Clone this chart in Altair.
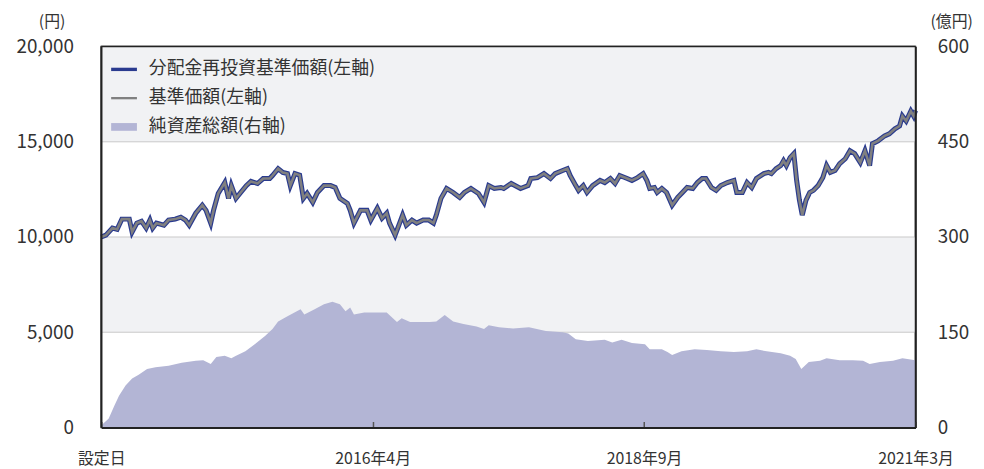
import json
import altair as alt
import pandas as pd

FONT = "Noto Sans CJK JP"
TEXT = "#333333"
BORDER = "#222222"

# ---- legend / series ----
series_names = ["分配金再投資基準価額(左軸)", "基準価額(左軸)", "純資産総額(右軸)"]
series_colors = ["#2a3b8f", "#808080", "#b3b5d5"]
series_shapes = ["M-1,-0.13H1V0.13H-1Z", "M-1,-0.09H1V0.09H-1Z", "M-1,-0.3H1V0.3H-1Z"]

# ---- axes ----
tick_months = [0, 29, 58, 87]
tick_labels = ["設定日", "2016年4月", "2018年9月", "2021年3月"]
left_ticks = [0, 5000, 10000, 15000, 20000]
right_ticks = [0, 150, 300, 450, 600]
band_lo = [5000, 15000]
band_hi = [10000, 20000]
grid_vals = [5000, 10000, 15000]
top_border = [20000]
side_borders = [0, 87]

# ---- 基準価額 (円), x = months since 設定日 ----
line_months = [
    0.0, 0.5, 1.2, 1.7, 2.2, 3.0, 3.3, 3.8, 4.3, 4.8, 5.2, 5.5, 5.9, 6.7, 7.2, 7.9,
    8.5, 9.0, 9.4, 10.1, 10.8, 11.2, 11.7, 12.0, 12.5, 13.2, 13.6, 13.9, 14.4, 14.9,
    15.5, 16.0, 16.7, 17.3, 18.0, 18.3, 18.9, 19.4, 19.9, 20.2, 20.7, 21.2, 21.6,
    22.0, 22.6, 23.1, 23.8, 24.5, 25.0, 25.5, 26.3, 26.6, 27.0, 27.7, 28.4, 28.8,
    29.5, 30.0, 30.5, 30.8, 31.4, 31.8, 32.2, 32.6, 33.2, 33.7, 34.4, 35.0, 35.5,
    35.8, 36.3, 36.9, 37.6, 38.3, 38.8, 39.5, 40.3, 40.9, 41.4, 42.0, 42.7, 43.0,
    43.8, 44.8, 45.6, 45.9, 46.6, 47.3, 48.0, 48.5, 49.3, 49.8, 50.1, 50.7, 51.0,
    51.5, 51.9, 52.5, 53.3, 53.8, 54.4, 54.9, 55.4, 56.2, 56.7, 57.3, 57.9, 58.3,
    58.6, 59.1, 59.4, 59.9, 60.4, 61.0, 61.6, 62.1, 62.6, 63.2, 63.7, 64.2, 64.6,
    65.2, 65.7, 66.2, 66.9, 67.6, 67.9, 68.5, 69.0, 69.5, 70.0, 70.8, 71.3, 71.6,
    72.1, 72.6, 72.9, 73.2, 73.6, 74.0, 74.3, 74.6, 74.9, 75.3, 75.7, 76.1, 76.6,
    77.1, 77.5, 77.9, 78.4, 78.9, 79.5, 80.0, 80.5, 81.1, 81.6, 82.1, 82.4, 83.0,
    83.7, 84.2, 84.8, 85.3, 85.6, 86.0, 86.5, 86.8, 87.0,
]
reinvest_nav = [
    10000, 10100, 10470, 10400, 10940, 10940, 10260, 10730, 10830, 10470, 10890, 10470, 10730, 10620, 10890, 10940,
    11040, 10890, 10620, 11250, 11670, 11400, 10730, 11400, 12290, 12860, 12030, 12700, 12030, 12340,
    12700, 12920, 12810, 13070, 13070, 13230, 13590, 13390, 13330, 12700, 13330, 13250, 12030,
    12290, 11820, 12340, 12700, 12700, 12600, 12030, 11770, 11400, 10730, 11400, 11400, 10890,
    11510, 10990, 11250, 10730, 10100, 10620, 11150, 10620, 10890, 10730, 10890, 10890, 10730,
    11150, 12030, 12550, 12340, 12080, 12340, 12550, 12290, 11820, 12700, 12550, 12600, 12550,
    12810, 12550, 12700, 13070, 13120, 13330, 13070, 13330, 13490, 13590, 13230, 12700, 12450,
    12700, 12340, 12700, 12970, 12860, 13070, 12810, 13230, 13070, 12970, 13120, 13330, 12970,
    12550, 12600, 12340, 12550, 12340, 11670, 12080, 12340, 12600, 12550, 12860, 13070, 13070,
    12600, 12450, 12700, 12860, 12970, 12340, 12340, 12860, 12600, 13070, 13330, 13390, 13330,
    13590, 13750, 14010, 13750, 14170, 14380, 12970, 11930, 11150, 11930, 12340, 12450, 12700,
    13120, 13750, 13390, 13490, 13850, 14110, 14530, 14380, 13910, 14530, 13750, 14900, 15050,
    15310, 15420, 15680, 15830, 16350, 16090, 16610, 16350, 16650,
]
# no distributions were paid, so 基準価額 equals the reinvested series
nav = list(reinvest_nav)

# ---- 純資産総額 (億円) ----
aum_months = [
    0.0, 0.8, 1.4, 1.9, 2.6, 3.3, 4.0, 4.9, 5.8, 7.2, 8.6, 10.1, 10.9, 11.7, 12.3, 13.2,
    13.9, 14.4, 15.4, 16.4, 17.5, 18.3, 18.9, 19.9, 21.3, 21.7, 22.8, 23.8, 24.7, 25.5,
    26.1, 26.6, 27.0, 28.1, 29.5, 30.5, 31.6, 32.1, 33.0, 34.0, 35.1, 35.8, 36.7, 37.6,
    38.7, 40.1, 40.9, 41.4, 42.5, 44.0, 45.7, 47.5, 49.3, 49.9, 50.7, 52.0, 53.8, 54.6,
    55.6, 56.7, 58.1, 58.6, 59.9, 60.5, 61.0, 62.0, 63.4, 64.7, 66.2, 67.6, 69.0, 70.0,
    71.1, 72.6, 73.6, 74.2, 74.8, 75.6, 76.8, 77.5, 78.9, 80.3, 81.4, 82.1, 83.2, 84.6,
    85.6, 87.0,
]
aum = [
    3, 14, 34, 50, 66, 77, 83, 92, 95, 97, 102, 105, 106, 100, 111, 113,
    109, 113, 120, 131, 144, 155, 167, 175, 186, 178, 186, 194, 198, 194,
    183, 189, 178, 181, 181, 181, 166, 172, 166, 166, 166, 167, 177, 167,
    163, 159, 155, 161, 158, 156, 158, 152, 150, 148, 139, 136, 138, 134,
    138, 133, 131, 123, 123, 119, 114, 120, 123, 122, 120, 119, 120, 123,
    120, 117, 113, 108, 92, 103, 105, 109, 106, 106, 105, 100, 103, 105,
    109, 106,
]

line_df = pd.DataFrame({"m": line_months, "reinvest": reinvest_nav, "nav": nav})
aum_df = pd.DataFrame({"m": aum_months, "aum": aum})
band_df = pd.DataFrame({"lo": band_lo, "hi": band_hi})
grid_df = pd.DataFrame({"v": grid_vals})
top_df = pd.DataFrame({"v": top_border})
side_df = pd.DataFrame({"m": side_borders})
legend_df = pd.DataFrame({"series": series_names})

label_expr = (
    json.dumps(tick_labels, ensure_ascii=False)
    + "[indexof(" + json.dumps(tick_months) + ", datum.value)]"
)

x_axis = alt.Axis(
    values=tick_months, labelExpr=label_expr, labelFlush=False, grid=False,
    domainColor=BORDER, domainWidth=2, ticks=True, tickColor="#555555",
    tickWidth=1.5, tickSize=alt.ExprRef(expr="-6"), labelPadding=29,
    labelFontSize=16, title=None, zindex=1,
)
x_scale = alt.Scale(domain=[0, 87], nice=False, zero=False)
x = alt.X("m:Q", scale=x_scale, axis=x_axis)

left_scale = alt.Scale(domain=[0, 20000], nice=False)
right_scale = alt.Scale(domain=[0, 600], nice=False)

left_axis = alt.Axis(
    orient="left", values=left_ticks, format=",.0f", title="(円)", titleAngle=0,
    titleX=-50, titleY=-25, titleAlign="center", titleBaseline="middle",
    titleFontSize=16, titleFontWeight="normal", labelPadding=28, ticks=False,
    grid=False, domainColor=BORDER, domainWidth=1.5, labelFontSize=19, zindex=1,
)
right_axis = alt.Axis(
    orient="right", values=right_ticks, format=",.0f", title="(億円)", titleAngle=0,
    titleX=36, titleY=-25, titleAlign="center", titleBaseline="middle",
    titleFontSize=16, titleFontWeight="normal", labelPadding=22, ticks=False,
    grid=False, domainColor=BORDER, domainWidth=1.5, labelFontSize=19, zindex=1,
)

bg = alt.layer(
    alt.Chart(band_df).mark_rect(color="#f1f2f4").encode(
        y=alt.Y("lo:Q", scale=left_scale, axis=None), y2="hi:Q"
    ),
    alt.Chart(grid_df).mark_rule(color="#c9c9c9", strokeWidth=1).encode(
        y=alt.Y("v:Q", scale=left_scale, axis=None)
    ),
    alt.Chart(top_df).mark_rule(color=BORDER, strokeWidth=1.5).encode(
        y=alt.Y("v:Q", scale=left_scale, axis=None)
    ),
)

area = alt.Chart(aum_df).mark_area(color=series_colors[2]).encode(
    x=x, y=alt.Y("aum:Q", scale=right_scale, axis=right_axis)
)

legend_def = alt.Legend(
    orient="top-left", offset=10, padding=0, title=None,
    labelFont=FONT, labelFontSize=18, labelColor=TEXT, labelLimit=500,
    symbolSize=676, labelOffset=12, rowPadding=7, symbolStrokeWidth=0,
)

lines = alt.layer(
    alt.Chart(line_df).mark_line(color=series_colors[0], strokeWidth=5).encode(
        x=x, y=alt.Y("reinvest:Q", scale=left_scale, axis=left_axis)
    ),
    alt.Chart(line_df).mark_line(color=series_colors[1], strokeWidth=2.6).encode(
        x=x, y=alt.Y("nav:Q", scale=left_scale, axis=left_axis)
    ),
    alt.Chart(side_df).mark_rule(color=BORDER, strokeWidth=1.5).encode(x=x),
    alt.Chart(legend_df).transform_filter("false").mark_point(filled=True, opacity=1).encode(
        color=alt.Color("series:N", scale=alt.Scale(domain=series_names, range=series_colors), legend=legend_def),
        shape=alt.Shape("series:N", scale=alt.Scale(domain=series_names, range=series_shapes), legend=legend_def),
    ),
)

chart = (
    alt.layer(bg, area, lines)
    .resolve_scale(y="independent")
    .properties(
        width=821, height=384,
        autosize=alt.AutoSizeParams(type="none"),
        padding={"left": 94, "top": 37, "right": 61, "bottom": 40},
    )
    .configure(font=FONT)
    .configure_view(stroke=BORDER, strokeWidth=1.5)
    .configure_axis(labelFont=FONT, titleFont=FONT, labelColor=TEXT, titleColor=TEXT)
)

chart.save("out.html", embed_options={"renderer": "svg", "actions": False})
